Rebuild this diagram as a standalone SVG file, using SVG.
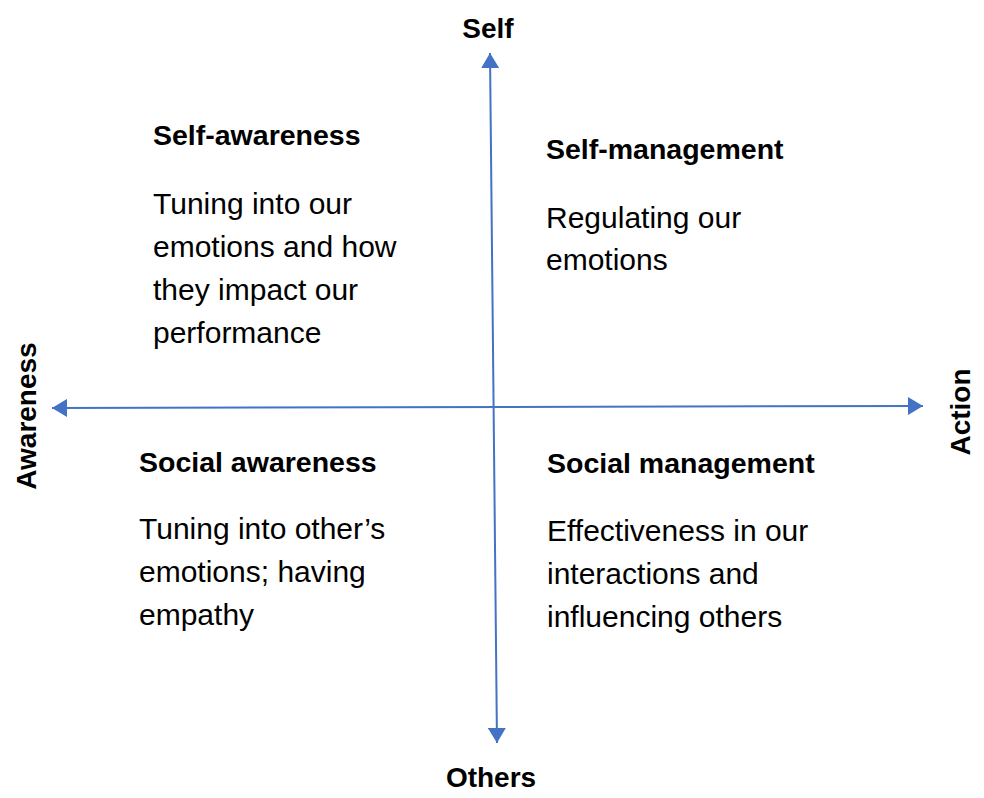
<svg xmlns="http://www.w3.org/2000/svg" width="984" height="798" viewBox="0 0 984 798">
<style>
  .bg { fill: #ffffff; }
  .axis { stroke: #4472C4; stroke-width: 2; fill: none; }
  .head { font-family: "Liberation Sans", Arial, sans-serif; font-weight: bold; font-size: 28.5px; fill: #000000; }
  .axlbl { font-family: "Liberation Sans", Arial, sans-serif; font-weight: bold; font-size: 28px; fill: #000000; }
  .body { font-family: "Liberation Sans", Arial, sans-serif; font-size: 30px; fill: #000000; }
</style>
<defs>
  <marker id="arrow" viewBox="0 0 15 18" refX="15" refY="9" markerWidth="15" markerHeight="18" markerUnits="userSpaceOnUse" orient="auto-start-reverse">
    <path d="M0,0 L15,9 L0,18 z" fill="#4472C4"/>
  </marker>
</defs>
<rect class="bg" x="0" y="0" width="984" height="798"/>
<g id="connectors">
  <line class="axis" x1="490" y1="53" x2="497" y2="743" marker-start="url(#arrow)" marker-end="url(#arrow)"/>
  <line class="axis" x1="52" y1="408" x2="923" y2="406" marker-start="url(#arrow)" marker-end="url(#arrow)"/>
</g>
<g id="label-self"><text class="axlbl" x="488" y="38" text-anchor="middle">Self</text></g>
<g id="label-others"><text class="axlbl" x="491" y="787" text-anchor="middle">Others</text></g>
<g id="label-awareness"><text class="axlbl" transform="translate(36,416) rotate(-90)" text-anchor="middle">Awareness</text></g>
<g id="label-action"><text class="axlbl" transform="translate(970,412) rotate(-90)" text-anchor="middle">Action</text></g>
<g id="self-awareness">
  <text class="head" x="153" y="145">Self-awareness</text>
  <text class="body" x="153" y="214">Tuning into our</text>
  <text class="body" x="153" y="257">emotions and how</text>
  <text class="body" x="153" y="300">they impact our</text>
  <text class="body" x="153" y="343">performance</text>
</g>
<g id="self-management">
  <text class="head" x="546" y="159">Self-management</text>
  <text class="body" x="546" y="228">Regulating our</text>
  <text class="body" x="546" y="270">emotions</text>
</g>
<g id="social-awareness">
  <text class="head" x="139" y="472">Social awareness</text>
  <text class="body" x="139" y="539">Tuning into other’s</text>
  <text class="body" x="139" y="582">emotions; having</text>
  <text class="body" x="139" y="625">empathy</text>
</g>
<g id="social-management">
  <text class="head" x="547" y="473">Social management</text>
  <text class="body" x="547" y="541">Effectiveness in our</text>
  <text class="body" x="547" y="584">interactions and</text>
  <text class="body" x="547" y="627">influencing others</text>
</g>
</svg>
